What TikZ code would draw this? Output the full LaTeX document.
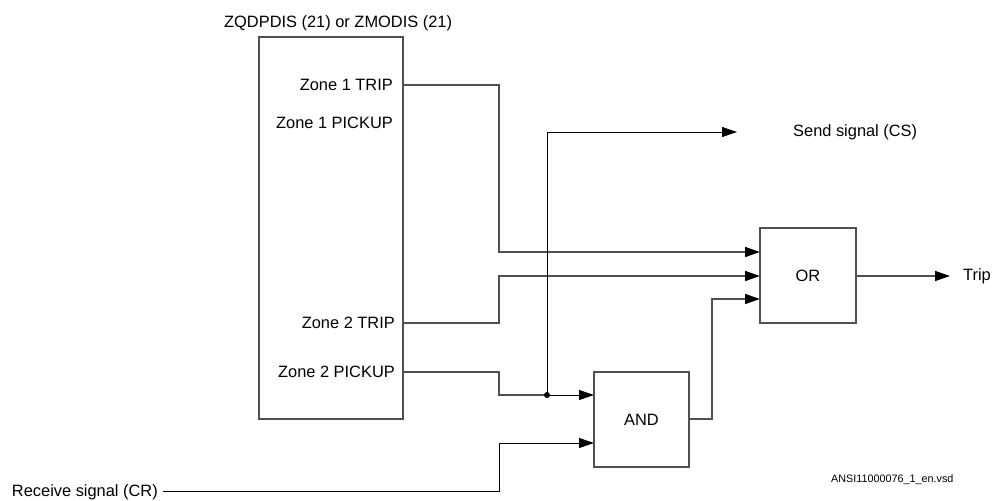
\documentclass[tikz,border=0pt]{standalone}
\usepackage{fontspec}
\setmainfont{Liberation Sans}
\usetikzlibrary{arrows.meta}
\definecolor{wire}{HTML}{505050}
\begin{document}
\begin{tikzpicture}[x=1pt,y=-1pt,
  lbl/.style={inner sep=0pt,font=\fontsize{16.4}{19}\selectfont},
  gate/.style={draw=wire,line width=1.3pt,inner sep=0pt,font=\fontsize{16.4}{19}\selectfont},
  wireln/.style={draw=wire,line width=1.5pt},
  blk/.style={draw=black,line width=0.9pt},
  sig/.style={-{Triangle[length=15pt,width=10pt,color=black,fill=black]}}
]
\useasboundingbox (0,0) rectangle (994,501);
% main function block
\node[gate,minimum width=144pt,minimum height=382pt] (Z) at (331,228) {};
\node[lbl,anchor=west] (title) at (224,23) {ZQDPDIS (21) or ZMODIS (21)};
\node[lbl,anchor=east] (z1t) at (393,85) {Zone 1 TRIP};
\node[lbl,anchor=east] (z1p) at (393,123) {Zone 1 PICKUP};
\node[lbl,anchor=east] (z2t) at (395,323) {Zone 2 TRIP};
\node[lbl,anchor=east] (z2p) at (395,372) {Zone 2 PICKUP};
\coordinate (p1) at (Z.east |- z1t);
\coordinate (p2) at (Z.east |- z2t);
\coordinate (p3) at (Z.east |- z2p);
% gates
\node[gate,minimum width=96pt,minimum height=95pt] (OR) at (808,275.5) {OR};
\node[gate,minimum width=95pt,minimum height=95pt] (AND) at (641.5,419.5) {AND};
% texts
\node[lbl,anchor=west] (cs) at (793,132) {Send signal (CS)};
\node[lbl,anchor=west] (trip) at (963,276) {Trip};
\node[lbl,anchor=east] (cr) at (158,492) {Receive signal (CR)};
\node[inner sep=0pt,anchor=west,font=\fontsize{10.8}{13}\selectfont] (file) at (831,480) {ANSI11000076\_1\_en.vsd};
% coordinates
\coordinate (orin1) at (760,252);
\coordinate (orin2) at (760,276);
\coordinate (orin3) at (760,299);
\coordinate (andin1) at (594,395);
\coordinate (andin2) at (594,443);
\coordinate (dot) at (547,395);
\coordinate (cstip) at (737,132);
\coordinate (triptip) at (950,276);
\coordinate (crstart) at (163,491);
% wires
\draw[wireln,sig] (p1) -- (499,85) -- (499,252) -- (orin1);
\draw[wireln,sig] (p2) -- (499,323) -- (499,276) -- (orin2);
\draw[wireln] (p3) -- (499,372) -- (499,395) -- (dot);
\draw[blk,sig] (dot) -- (andin1);
\draw[blk,sig] (dot) |- (cstip);
\fill (dot) circle (3pt);
\draw[wireln,sig] (AND.east |- 0,419) -- (712,419) |- (orin3);
\draw[blk,sig] (crstart) -- (499,491) |- (andin2);
\draw[wireln,sig] (OR.east |- 0,276) -- (triptip);
\end{tikzpicture}
\end{document}
